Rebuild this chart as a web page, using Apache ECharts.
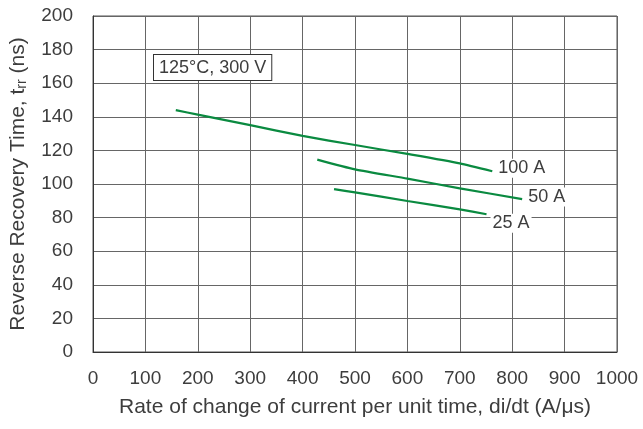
<!DOCTYPE html>
<html>
<head>
<meta charset="utf-8">
<script src="https://cdn.jsdelivr.net/npm/echarts@6/dist/echarts.min.js"></script>
<style>
html,body{margin:0;padding:0;background:#fff;}
#c{width:643px;height:429px;}
</style>
</head>
<body>
<div id="c"></div>
<script>
// Data
const xTicks = [0, 100, 200, 300, 400, 500, 600, 700, 800, 900, 1000];
const yTicks = [0, 20, 40, 60, 80, 100, 120, 140, 160, 180, 200];
const seriesNames = ['100 A', '50 A', '25 A'];
const x100A = [158, 200, 300, 400, 500, 600, 700, 762];
const y100A = [144, 141.3, 135, 128.6, 123.2, 117.9, 112.3, 107.6];
const x50A = [428, 500, 600, 700, 819];
const y50A = [114.5, 108.7, 103.2, 97.4, 91];
const x25A = [460, 500, 600, 700, 751];
const y25A = [97, 95, 89.9, 84.9, 82];
const conditionText = '125°C, 300 V';

const FONT = '"Liberation Sans", Arial, sans-serif';
const TXT = '#3d3d3d';
const GREEN = '#0a8a40';

function pairs(xs, ys) {
  return xs.map((x, i) => [x, ys[i]]);
}
const data = [pairs(x100A, y100A), pairs(x50A, y50A), pairs(x25A, y25A)];
const labelOffsets = [[0, -3], [0, -2], [0, 9]];

const chart = echarts.init(document.getElementById('c'), null, { renderer: 'canvas' });

chart.setOption({
  animation: false,
  backgroundColor: '#fff',
  grid: {
    left: 93, right: 26, top: 16, bottom: 77,
    containLabel: false,
    outerBoundsMode: 'none',
    show: true, borderColor: '#555', borderWidth: 1
  },
  xAxis: {
    type: 'value',
    min: xTicks[0], max: xTicks[xTicks.length - 1], interval: xTicks[1] - xTicks[0],
    name: 'Rate of change of current per unit time, di/dt (A/μs)',
    nameLocation: 'middle',
    nameGap: 45,
    nameTextStyle: { color: TXT, fontFamily: FONT, fontSize: 21 },
    axisLine: { lineStyle: { color: '#333', width: 1 } },
    axisTick: { show: false },
    axisLabel: { color: TXT, fontFamily: FONT, fontSize: 19, margin: 17, formatter: v => String(v) },
    splitLine: { show: true, lineStyle: { color: '#666', width: 1 } }
  },
  yAxis: {
    type: 'value',
    min: yTicks[0], max: yTicks[yTicks.length - 1], interval: yTicks[1] - yTicks[0],
    name: '{a|Reverse Recovery Time, t}{s|rr}{a| (ns)}',
    nameLocation: 'middle',
    nameGap: 64,
    nameRotate: 90,
    nameTextStyle: {
      color: TXT, fontFamily: FONT, fontSize: 21,
      rich: {
        a: { color: TXT, fontFamily: FONT, fontSize: 21, lineHeight: 21, verticalAlign: 'top' },
        s: { color: TXT, fontFamily: FONT, fontSize: 14, lineHeight: 14, verticalAlign: 'bottom', padding: [10, 0, 0, 0] }
      }
    },
    axisLine: { show: true, lineStyle: { color: '#333', width: 1 } },
    axisTick: { show: false },
    axisLabel: { color: TXT, fontFamily: FONT, fontSize: 19, margin: 20, formatter: v => String(v) },
    splitLine: { show: true, lineStyle: { color: '#666', width: 1 } }
  },
  series: seriesNames.map((n, i) => ({
    name: n,
    type: 'line',
    data: data[i],
    smooth: 0.2,
    showSymbol: false,
    symbol: 'none',
    lineStyle: { color: GREEN, width: 2.2 },
    endLabel: {
      show: true,
      formatter: () => n,
      distance: 4,
      offset: labelOffsets[i],
      color: TXT,
      fontFamily: FONT,
      fontSize: 18,
      backgroundColor: '#fff',
      padding: [1, 2, 0, 2]
    },
    z: 3
  })),
  graphic: [{
    type: 'text',
    left: 153, top: 54,
    z: 10,
    style: {
      text: conditionText,
      fill: TXT,
      font: '18px ' + FONT,
      backgroundColor: '#fff',
      borderColor: '#333',
      borderWidth: 1,
      padding: [4, 5, 3, 5]
    }
  }]
});
</script>
</body>
</html>
